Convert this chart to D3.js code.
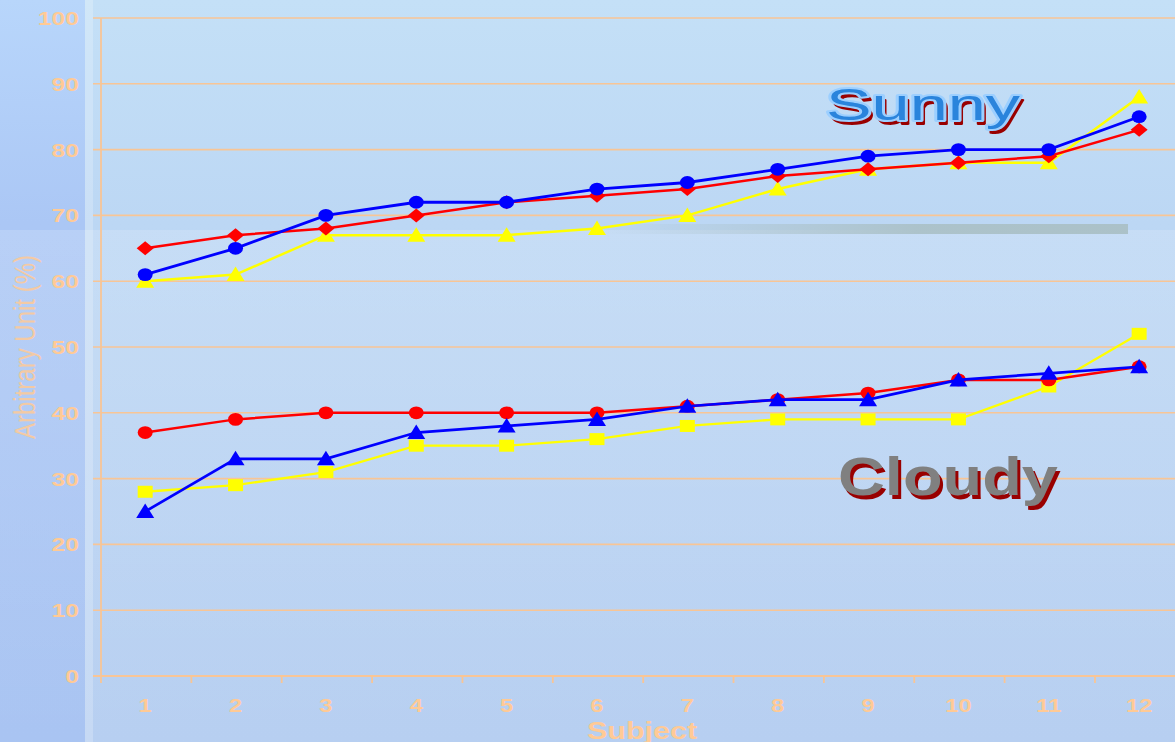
<!DOCTYPE html>
<html>
<head>
<meta charset="utf-8">
<script src="https://cdn.jsdelivr.net/npm/d3@7/dist/d3.min.js"></script>
<style>
  html, body { margin: 0; padding: 0; overflow: hidden; }
  svg { display: block; }
  text { font-family: "Liberation Sans", Arial, sans-serif; }
</style>
</head>
<body>
<svg id="viz"></svg>
<script>
// data
var subjects = [1, 2, 3, 4, 5, 6, 7, 8, 9, 10, 11, 12];
var yTicks = [0, 10, 20, 30, 40, 50, 60, 70, 80, 90, 100];

var sunnyYellow = [60, 61, 67, 67, 67, 68, 70, 74, 77, 78, 78, 88];
var sunnyRed    = [65, 67, 68, 70, 72, 73, 74, 76, 77, 78, 79, 83];
var sunnyBlue   = [61, 65, 70, 72, 72, 74, 75, 77, 79, 80, 80, 85];

var cloudyYellow = [28, 29, 31, 35, 35, 36, 38, 39, 39, 39, 44, 52];
var cloudyRed    = [37, 39, 40, 40, 40, 40, 41, 42, 43, 45, 45, 47];
var cloudyBlue   = [25, 33, 33, 37, 38, 39, 41, 42, 42, 45, 46, 47];

var width = 1175, height = 742;
var peach = "#FFCA96", grid = "#F8C596";

var svg = d3.select("#viz").attr("width", width).attr("height", height);
var defs = svg.append("defs");

function vgrad(id, stops) {
  var g = defs.append("linearGradient").attr("id", id)
    .attr("x1", 0).attr("y1", 0).attr("x2", 0).attr("y2", 1);
  stops.forEach(function(s) {
    g.append("stop").attr("offset", s[0]).attr("stop-color", s[1]).attr("stop-opacity", s[2] == null ? 1 : s[2]);
  });
}
vgrad("bg", [[0, "#C4E0F7"], [0.3, "#BCD7F4"], [1, "#B7CFF1"]]);
vgrad("left", [[0, "#B8D6FB"], [0.3, "#ABC7F5"], [1, "#A9C4F2"]]);
vgrad("glow", [[0, "#ffffff", 0.16], [1, "#ffffff", 0]]);
var hg = defs.append("linearGradient").attr("id", "bar")
  .attr("x1", 0).attr("y1", 0).attr("x2", 1).attr("y2", 0);
hg.append("stop").attr("offset", 0).attr("stop-color", "#AAC0C6").attr("stop-opacity", 0);
hg.append("stop").attr("offset", 0.6).attr("stop-color", "#AAC0C6").attr("stop-opacity", 0.9);
hg.append("stop").attr("offset", 1).attr("stop-color", "#AAC0C6").attr("stop-opacity", 0.95);

// background panels
svg.append("rect").attr("width", width).attr("height", height).attr("fill", "url(#bg)");
svg.append("rect").attr("width", 85).attr("height", height).attr("fill", "url(#left)");
svg.append("rect").attr("x", 85).attr("width", 8).attr("height", height).attr("fill", "#ffffff").attr("opacity", 0.22);
svg.append("rect").attr("y", 230).attr("width", width).attr("height", height - 230).attr("fill", "url(#glow)");
svg.append("rect").attr("x", 600).attr("y", 224).attr("width", 528).attr("height", 10).attr("fill", "url(#bar)");

// scales
var x = d3.scaleBand().domain(subjects).range([101, 101 + 12 * 90.36]);
var y = d3.scaleLinear().domain([0, 100]).range([676, 18]);
var cx = function(d) { return x(d) + x.bandwidth() / 2 - 1; };

// gridlines
svg.append("g").selectAll("line").data(yTicks.filter(function(t) { return t > 0; })).enter()
  .append("line")
  .attr("x1", 93).attr("x2", width)
  .attr("y1", function(d) { return y(d); }).attr("y2", function(d) { return y(d); })
  .attr("stroke", grid).attr("stroke-width", 1.6);

// axes
svg.append("line").attr("x1", 93).attr("x2", width).attr("y1", 676).attr("y2", 676)
  .attr("stroke", grid).attr("stroke-width", 1.8);
svg.append("line").attr("x1", 101).attr("x2", 101).attr("y1", 18).attr("y2", 683)
  .attr("stroke", grid).attr("stroke-width", 1.8);
svg.append("g").selectAll("line").data(subjects.slice(1)).enter().append("line")
  .attr("x1", function(d) { return x(d); }).attr("x2", function(d) { return x(d); })
  .attr("y1", 676).attr("y2", 683).attr("stroke", grid).attr("stroke-width", 1.8);

// tick labels
svg.append("g").selectAll("text").data(subjects).enter().append("text")
  .attr("transform", function(d) { return "translate(" + cx(d) + ",712) scale(1.25,1)"; })
  .attr("text-anchor", "middle").attr("font-size", 19).attr("font-weight", "bold")
  .attr("fill", peach).text(function(d) { return d; });

svg.append("g").selectAll("text").data(yTicks).enter().append("text")
  .attr("transform", function(d) { return "translate(79," + (y(d) + 7) + ") scale(1.3,1)"; })
  .attr("text-anchor", "end").attr("font-size", 19).attr("font-weight", "bold")
  .attr("fill", peach).text(function(d) { return d; });

svg.append("text")
  .attr("transform", "translate(642,739) scale(1.27,1)")
  .attr("text-anchor", "middle").attr("font-size", 24).attr("font-weight", "bold")
  .attr("fill", peach).text("Subject");

svg.append("text")
  .attr("transform", "translate(35,347) scale(1.25,1) rotate(-90)")
  .attr("text-anchor", "middle").attr("font-size", 24)
  .attr("fill", peach).attr("opacity", 0.85).text("Arbitrary Unit (%)");

// series
var line = d3.line().x(function(d, i) { return cx(subjects[i]); }).y(function(d) { return y(d); });

var shapes = {
  circle: "M-7.5,0A7.5,6.4 0 1,0 7.5,0A7.5,6.4 0 1,0 -7.5,0Z",
  diamond: "M0,-7L8.5,0L0,7L-8.5,0Z",
  triangle: "M0,-8L9,6.5L-9,6.5Z",
  square: "M-7.5,-6H7.5V6H-7.5Z"
};

var series = [
  { values: cloudyYellow, color: "#FFFF00", shape: "square", w: 2.3 },
  { values: cloudyRed, color: "#FF0000", shape: "circle", w: 2.5 },
  { values: cloudyBlue, color: "#0000FF", shape: "triangle", w: 2.7 },
  { values: sunnyYellow, color: "#FFFF00", shape: "triangle", w: 2.5 },
  { values: sunnyRed, color: "#FF0000", shape: "diamond", w: 2.5 },
  { values: sunnyBlue, color: "#0000FF", shape: "circle", w: 2.8 }
];

series.forEach(function(s) {
  var g = svg.append("g");
  g.append("path").datum(s.values)
    .attr("d", line).attr("fill", "none").attr("stroke", s.color).attr("stroke-width", s.w);
  g.selectAll(".mk").data(s.values).enter().append("path")
    .attr("class", "mk")
    .attr("d", shapes[s.shape])
    .attr("transform", function(d, i) { return "translate(" + cx(subjects[i]) + "," + y(d) + ")"; })
    .attr("fill", s.color);
});

// word labels with drop shadows
function shadowLabel(txt, left, base, size, family, weight, targetW, fill, stroke) {
  var shadow = svg.append("text").attr("font-size", size).attr("font-family", family)
    .attr("font-weight", weight).attr("fill", "#990000").text(txt);
  var main = svg.append("text").attr("font-size", size).attr("font-family", family)
    .attr("font-weight", weight).attr("fill", fill).text(txt);
  if (stroke) {
    shadow.attr("stroke", "#990000").attr("stroke-width", 2).attr("stroke-linejoin", "round");
    main.attr("stroke", stroke).attr("stroke-width", 4).attr("paint-order", "stroke")
      .attr("stroke-linejoin", "round");
  }
  var sx = targetW / main.node().getComputedTextLength();
  main.attr("transform", "translate(" + left + "," + base + ") scale(" + sx + ",1)");
  shadow.attr("transform", "translate(" + (left + 3) + "," + (base + 4) + ") scale(" + sx + ",1)");
}

shadowLabel("Sunny", 826, 120, 45, "DejaVu Sans", "normal", 194, "#2A84DC", "#9CCFFF");
shadowLabel("Cloudy", 838, 495, 54, "Liberation Sans", "bold", 220, "#808080", null);
</script>
</body>
</html>
